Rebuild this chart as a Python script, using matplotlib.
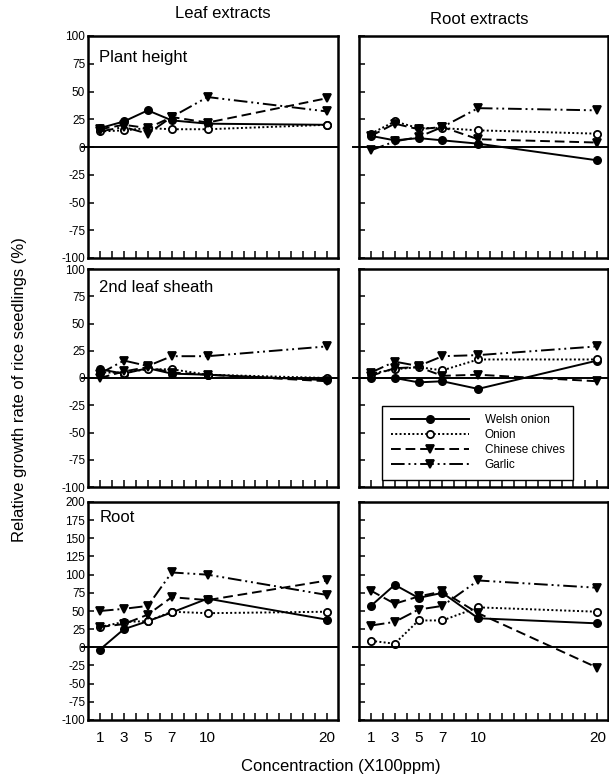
import matplotlib
matplotlib.use("Agg")
import matplotlib.pyplot as plt

plt.rcParams["font.family"] = ["Liberation Sans", "DejaVu Sans"]
plt.rcParams["axes.unicode_minus"] = False

conc = [1, 3, 5, 7, 10, 20]
xtick_labels = [1, 3, 5, 7, 10, 20]
species = ["Welsh onion", "Onion", "Chinese chives", "Garlic"]

# plant height (%)
welsh_leaf_height = [17, 23, 33, 24, 21, 20]
onion_leaf_height = [14, 15, 17, 16, 16, 20]
chives_leaf_height = [16, 20, 17, 27, 22, 44]
garlic_leaf_height = [14, 18, 12, 27, 45, 32]

welsh_root_height = [10, 6, 8, 6, 3, -12]
onion_root_height = [12, 23, 17, 17, 15, 12]
chives_root_height = [10, 21, 16, 18, 7, 4]
garlic_root_height = [-3, 5, 9, 18, 35, 33]

# 2nd leaf sheath (%)
welsh_leaf_sheath = [8, 4, 9, 4, 3, -2]
onion_leaf_sheath = [5, 5, 8, 8, 3, 0]
chives_leaf_sheath = [0, 6, 10, 5, 3, -3]
garlic_leaf_sheath = [4, 16, 11, 20, 20, 29]

welsh_root_sheath = [0, 0, -4, -3, -10, 16]
onion_root_sheath = [4, 8, 10, 7, 17, 17]
chives_root_sheath = [2, 9, 10, 2, 3, -3]
garlic_root_sheath = [5, 15, 11, 20, 21, 29]

# root (%)
welsh_leaf_root = [-3, 25, 36, 48, 67, 38]
onion_leaf_root = [28, 35, 36, 49, 47, 49]
chives_leaf_root = [28, 32, 45, 69, 65, 92]
garlic_leaf_root = [50, 53, 57, 103, 100, 72]

welsh_root_root = [57, 86, 68, 75, 40, 33]
onion_root_root = [9, 5, 37, 37, 55, 49]
chives_root_root = [78, 60, 70, 77, 47, -28]
garlic_root_root = [30, 35, 52, 57, 92, 82]

styles = [
    dict(ls="-", marker="o", mfc="black"),
    dict(ls=(0, (1, 1.2)), marker="o", mfc="white"),
    dict(ls=(0, (5, 2.5)), marker="v", mfc="black"),
    dict(ls=(0, (7, 2, 1, 2, 1, 2)), marker="v", mfc="black"),
]

panels = [
    ("Plant height", (-100, 100), 0.937,
     [welsh_leaf_height, onion_leaf_height, chives_leaf_height, garlic_leaf_height],
     [welsh_root_height, onion_root_height, chives_root_height, garlic_root_height]),
    ("2nd leaf sheath", (-100, 100), 0.95,
     [welsh_leaf_sheath, onion_leaf_sheath, chives_leaf_sheath, garlic_leaf_sheath],
     [welsh_root_sheath, onion_root_sheath, chives_root_sheath, garlic_root_sheath]),
    ("Root", (-100, 200), 0.965,
     [welsh_leaf_root, onion_leaf_root, chives_leaf_root, garlic_leaf_root],
     [welsh_root_root, onion_root_root, chives_root_root, garlic_root_root]),
]

W, H = 609, 780
fig = plt.figure(figsize=(W / 100, H / 100), dpi=100)

rows = [(36, 258), (269, 487), (502, 720)]
cols = [(88, 338), (359, 608)]


def make_axes(x0, x1, y0, y1):
    return fig.add_axes([x0 / W, (H - y1) / H, (x1 - x0) / W, (y1 - y0) / H])


for r, (name, ylim, label_y, leaf_data, root_data) in enumerate(panels):
    for c, data in enumerate([leaf_data, root_data]):
        ax = make_axes(cols[c][0], cols[c][1], rows[r][0], rows[r][1])
        for vals, st, lab in zip(data, styles, species):
            ax.plot(conc, vals, color="black", lw=1.4, ls=st["ls"],
                    marker=st["marker"], mfc=st["mfc"], mec="black",
                    mew=1.3, ms=5.2, label=lab)
        ax.axhline(0, xmin=-0.025, color="black", lw=1.4, clip_on=False)
        ax.set_xlim(0, 20.9)
        ax.set_ylim(*ylim)
        ax.set_yticks(range(ylim[0], ylim[1] + 1, 25))
        ax.set_xticks(range(1, 21))
        for s in ax.spines.values():
            s.set_linewidth(1.8)
        ax.tick_params(direction="in", length=4, width=1.1, labelsize=8.5, pad=2)
        ax.tick_params(axis="x", length=5)
        if r == 2:
            ax.set_xticklabels([str(v) if v in xtick_labels else "" for v in range(1, 21)],
                               fontsize=11)
            ax.tick_params(axis="x", pad=8)
        else:
            ax.set_xticklabels([])
        if c == 0:
            ax.text(0.045, label_y, name, transform=ax.transAxes, fontsize=12,
                    va="top", ha="left")
        else:
            ax.set_yticklabels([])
        if r == 1 and c == 1:
            ax.legend(loc="lower left", bbox_to_anchor=(0.08, 0.015), fontsize=8.5,
                      handlelength=6.6, numpoints=1, frameon=True, fancybox=False,
                      edgecolor="black", framealpha=1, borderpad=0.75,
                      labelspacing=0.25, handletextpad=1.3, borderaxespad=0.3)

fig.text(223 / W, 1 - 14 / H, "Leaf extracts", ha="center", va="center", fontsize=12)
fig.text(479 / W, 1 - 20 / H, "Root extracts", ha="center", va="center", fontsize=12)
fig.text(20 / W, 1 - 390 / H, "Relative growth rate of rice seedlings (%)",
         rotation=90, ha="center", va="center", fontsize=12)
fig.text(341 / W, 1 - 766 / H, "Concentraction (X100ppm)", ha="center",
         va="center", fontsize=12)

fig.savefig("out.png", dpi=100)
